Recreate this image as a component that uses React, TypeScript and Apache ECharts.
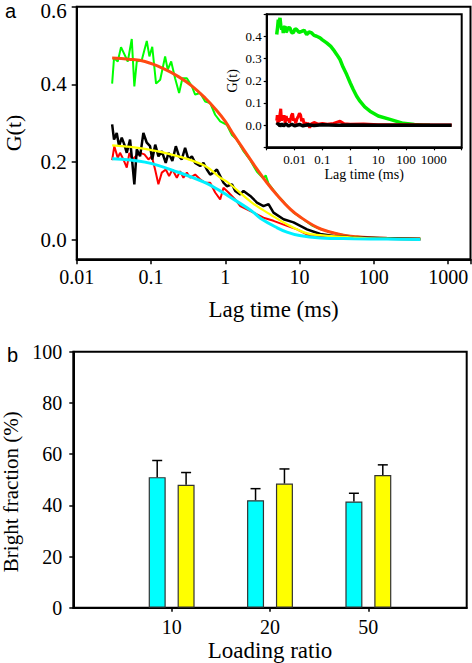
import React, { useEffect, useRef } from 'react';
import * as echarts from 'echarts';

// ---------- Panel a: main FCS curves (lag time ms, G(t)) ----------
const greenData: [number, number][] = [
  [0.03, 0.402], [0.0318, 0.468], [0.0357, 0.459], [0.0395, 0.496], [0.0487, 0.459], [0.0551, 0.517],
  [0.0597, 0.395], [0.0644, 0.459], [0.0752, 0.463], [0.0878, 0.512], [0.0952, 0.472], [0.104, 0.497],
  [0.117, 0.402], [0.133, 0.412], [0.155, 0.472], [0.168, 0.438], [0.187, 0.459], [0.211, 0.416],
  [0.239, 0.378], [0.265, 0.416], [0.304, 0.416], [0.355, 0.395], [0.393, 0.374], [0.459, 0.378],
  [0.536, 0.356], [0.626, 0.352], [0.731, 0.322], [0.854, 0.305], [1.05, 0.296], [1.23, 0.27],
  [1.43, 0.258], [1.76, 0.228], [2.17, 0.205], [2.67, 0.175], [3.27, 0.158], [3.5, 0.166],
  [3.82, 0.145], [4.46, 0.128], [5.2, 0.112], [6.09, 0.098], [7.1, 0.083], [8.3, 0.07], [10, 0.06],
  [12.6, 0.046], [15, 0.036], [19, 0.028], [25.9, 0.02], [35, 0.014], [53, 0.009], [80, 0.006],
  [150, 0.004], [250, 0.003], [423, 0.003],
];
const orangeFit: [number, number][] = [
  [0.03, 0.468], [0.05, 0.465], [0.083, 0.459], [0.15, 0.44], [0.234, 0.42], [0.35, 0.397],
  [0.536, 0.365], [0.75, 0.335], [1.0, 0.305], [1.3, 0.27], [1.76, 0.233], [2.5, 0.19], [3.64, 0.147],
  [5, 0.115], [7.5, 0.079], [10, 0.06], [17.2, 0.032], [25, 0.021], [39.2, 0.012], [60, 0.008],
  [81, 0.006], [150, 0.004], [423, 0.002],
];
const blackData: [number, number][] = [
  [0.03, 0.297], [0.0318, 0.258], [0.0346, 0.275], [0.0372, 0.241], [0.0404, 0.263], [0.0438, 0.245],
  [0.0472, 0.224], [0.0523, 0.258], [0.0561, 0.198], [0.0597, 0.143], [0.0644, 0.233], [0.0713, 0.215],
  [0.079, 0.275], [0.0878, 0.25], [0.0972, 0.241], [0.104, 0.207], [0.114, 0.245], [0.126, 0.215],
  [0.14, 0.228], [0.158, 0.198], [0.172, 0.224], [0.194, 0.203], [0.216, 0.241], [0.239, 0.215],
  [0.26, 0.207], [0.288, 0.237], [0.319, 0.207], [0.355, 0.215], [0.393, 0.198], [0.459, 0.19],
  [0.508, 0.198], [0.565, 0.181], [0.626, 0.168], [0.693, 0.173], [0.771, 0.181], [0.854, 0.164],
  [0.946, 0.147], [1.05, 0.138], [1.23, 0.143], [1.36, 0.126], [1.59, 0.117], [1.76, 0.126],
  [2.17, 0.113], [2.67, 0.096], [3.27, 0.087], [3.82, 0.092], [4.46, 0.07], [6.09, 0.053],
  [8.3, 0.045], [12.6, 0.027], [19, 0.015], [28.7, 0.01], [53, 0.006], [150, 0.004], [423, 0.002],
];
const redData: [number, number][] = [
  [0.03, 0.205], [0.0321, 0.241], [0.0357, 0.211], [0.0383, 0.224], [0.0425, 0.207], [0.0472, 0.186],
  [0.0512, 0.224], [0.0561, 0.207], [0.0624, 0.215], [0.0713, 0.224], [0.0815, 0.22], [0.0923, 0.207],
  [0.1025, 0.215], [0.1136, 0.181], [0.1258, 0.143], [0.1398, 0.173], [0.1584, 0.181], [0.1754, 0.164],
  [0.1943, 0.181], [0.2227, 0.16], [0.2467, 0.177], [0.2733, 0.16], [0.3038, 0.173], [0.3365, 0.16],
  [0.3929, 0.168], [0.4589, 0.156], [0.5358, 0.147], [0.626, 0.147], [0.731, 0.122], [0.854, 0.104],
  [0.946, 0.134], [1.104, 0.122], [1.36, 0.104], [1.59, 0.087], [2.4, 0.07], [3.27, 0.057],
  [4.46, 0.049], [6.77, 0.036], [9.23, 0.027], [13.9, 0.01], [25.9, 0.006], [60, 0.003], [150, 0.002],
  [423, 0.001],
];
const yellowFit: [number, number][] = [
  [0.03, 0.243], [0.083, 0.234], [0.234, 0.215], [0.536, 0.19], [0.854, 0.16], [1.1, 0.147],
  [2.28, 0.096], [4, 0.066], [6.76, 0.04], [12, 0.018], [19, 0.012], [53, 0.006], [150, 0.003],
  [423, 0.002],
];
const cyanFit: [number, number][] = [
  [0.03, 0.209], [0.083, 0.2], [0.234, 0.174], [0.536, 0.147], [0.854, 0.126], [1.1, 0.113],
  [2.28, 0.074], [3, 0.055], [5, 0.031], [6.76, 0.02], [10, 0.011], [19, 0.005], [53, 0.003],
  [150, 0.002], [423, 0.001],
];

// ---------- Panel a inset ----------
const insetGreen: [number, number][] = [
  [0.00229, 0.409], [0.00245, 0.44], [0.00261, 0.476], [0.0028, 0.46], [0.003, 0.484], [0.0032, 0.45],
  [0.00345, 0.431], [0.0037, 0.445], [0.00394, 0.416], [0.0042, 0.44], [0.00454, 0.446], [0.0049, 0.42],
  [0.00522, 0.423], [0.0058, 0.44], [0.00686, 0.438], [0.0078, 0.418], [0.00901, 0.416], [0.0105, 0.435],
  [0.0119, 0.431], [0.0145, 0.418], [0.018, 0.423], [0.022, 0.428], [0.0273, 0.409], [0.033, 0.42],
  [0.0412, 0.416], [0.05, 0.405], [0.0623, 0.401], [0.0819, 0.394], [0.1, 0.385], [0.142, 0.371],
  [0.2, 0.355], [0.246, 0.341], [0.33, 0.318], [0.428, 0.296], [0.55, 0.262], [0.744, 0.228],
  [1.0, 0.19], [1.28, 0.161], [1.7, 0.13], [2.23, 0.108], [3.3, 0.082], [5.1, 0.063], [10.1, 0.041],
  [26.7, 0.026], [80, 0.008], [200, 0.003], [418, 0.0], [726, 0.0],
];
const insetRed: [number, number][] = [
  [0.00229, 0.02], [0.0024, 0.045], [0.0025, 0.01], [0.0026, 0.041], [0.0028, 0.015], [0.003, 0.05],
  [0.0032, 0.074], [0.0034, 0.02], [0.0036, 0.035], [0.0039, 0.026], [0.0042, 0.045], [0.0046, 0.01],
  [0.005, 0.041], [0.0055, 0.02], [0.006, 0.03], [0.0066, 0.012], [0.0072, 0.026], [0.0078, 0.045],
  [0.0085, 0.053], [0.0092, 0.02], [0.01, 0.03], [0.011, 0.008], [0.012, 0.026], [0.0135, 0.04],
  [0.015, 0.053], [0.0165, 0.045], [0.018, 0.018], [0.02, 0.03], [0.022, 0.005], [0.025, 0.012],
  [0.0273, -0.005], [0.03, 0.011], [0.035, -0.012], [0.04, 0.006], [0.05, 0.012], [0.07, 0.004],
  [0.1, 0.008], [0.15, 0.004], [0.25, 0.008], [0.43, 0.018], [0.6, 0.006], [1, 0.004], [3, 0.005],
  [10, 0.002], [100, 0.002], [1000, 0.001], [4365, 0.001],
];
const insetBlack: [number, number][] = [
  [0.00229, 0.0], [0.0026, 0.008], [0.003, -0.004], [0.0035, 0.006], [0.004, -0.003], [0.005, 0.005],
  [0.006, -0.004], [0.008, 0.004], [0.01, -0.003], [0.015, 0.003], [0.02, -0.003], [0.03, 0.002],
  [0.05, -0.002], [0.1, 0.002], [0.3, 0.0], [1, 0.001], [10, 0.0], [100, 0.0], [1000, 0.0], [4365, 0.0],
];

// tick labels
const mainLogLabels = [0.01, 0.1, 1, 10, 100, 1000];
const mainYLabels = [0, 0.2, 0.4, 0.6];

// ---------- Panel b: bright fraction ----------
const loadingRatios = ['', '10', '20', '50', ''];
const cyanBars = ['-', 51, 42, 41.5, '-'];
const yellowBars = ['-', 48, 48.5, 51.8, '-'];
const cyanErr = [6.5, 4.5, 3.2];
const yellowErr = [4.8, 5.7, 4.0];

const SERIF = 'Liberation Serif';
const SANS = 'Liberation Sans';
const BAR_W = 17;
const BAR_GAP = 0.7;

const logFmt = (v: number) => {
  const r = Number(v.toPrecision(6));
  return mainLogLabels.includes(r) ? String(r) : '';
};

export default function App() {
  const ref = useRef<HTMLDivElement>(null);
  useEffect(() => {
    document.body.style.margin = '0';
    const chart = echarts.init(ref.current!, null, { renderer: 'svg' });

    const errData: number[][] = [];
    cyanErr.forEach((e, i) => errData.push([i + 1, cyanBars[i + 1] as number, e, -1]));
    yellowErr.forEach((e, i) => errData.push([i + 1, yellowBars[i + 1] as number, e, 1]));
    const halfOffset = (BAR_W * 2 + BAR_W * BAR_GAP) / 2 - BAR_W / 2;
    const topY = mainYLabels[mainYLabels.length - 1];

    const axisLine = { onZero: false, lineStyle: { color: '#000', width: 2 } };
    const lineSeries = (data: [number, number][], color: string, width: number, idx: number, smooth = false) => ({
      type: 'line',
      data,
      xAxisIndex: idx,
      yAxisIndex: idx,
      showSymbol: false,
      symbol: 'none',
      smooth: smooth ? 0.4 : false,
      lineStyle: { color, width },
      itemStyle: { color },
      silent: true,
    });
    const gridBase = { show: true, borderColor: '#000', borderWidth: 2, containLabel: false, outerBoundsMode: 'none' };

    chart.setOption({
      animation: false,
      backgroundColor: '#fff',
      textStyle: { fontFamily: SERIF, color: '#000' },
      grid: [
        { ...gridBase, left: 76.7, top: 6.7, width: 393.8, height: 252.6 },
        { ...gridBase, left: 266.7, top: 14.3, width: 195, height: 133, backgroundColor: '#fff' },
        { ...gridBase, left: 73.3, top: 351.7, width: 393.4, height: 256 },
      ],
      xAxis: [
        {
          gridIndex: 0, type: 'log', logBase: 10, min: 0.01, max: 2000,
          axisLine, splitLine: { show: false },
          axisTick: { length: 5, lineStyle: { color: '#000', width: 1.5 } },
          axisLabel: { formatter: logFmt, fontSize: 20, color: '#000', margin: 8, fontFamily: SERIF },
          name: 'Lag time (ms)', nameLocation: 'middle', nameGap: 39,
          nameTextStyle: { fontSize: 23, color: '#000', fontFamily: SERIF },
        },
        {
          gridIndex: 1, type: 'log', logBase: 10, min: 0.001, max: 10000,
          axisLine, splitLine: { show: false },
          axisTick: { length: 3, lineStyle: { color: '#000', width: 1.2 } },
          axisLabel: { formatter: logFmt, fontSize: 13, color: '#000', margin: 6, fontFamily: SERIF },
          name: 'Lag time (ms)', nameLocation: 'middle', nameGap: 19,
          nameTextStyle: { fontSize: 14, color: '#000', fontFamily: SERIF },
        },
        {
          gridIndex: 2, type: 'category', data: loadingRatios, boundaryGap: false,
          axisLine,
          axisTick: { length: 4, interval: (i: number) => i > 0 && i < loadingRatios.length - 1, lineStyle: { color: '#000', width: 1.5 } },
          axisLabel: { interval: 0, fontSize: 20, color: '#000', margin: 9, fontFamily: SERIF },
          name: 'Loading ratio', nameLocation: 'middle', nameGap: 31,
          nameTextStyle: { fontSize: 23, color: '#000', fontFamily: SERIF },
        },
      ],
      yAxis: [
        {
          gridIndex: 0, type: 'value', min: -0.05, max: 0.6,
          axisLine: { show: true, ...axisLine }, splitLine: { show: false },
          axisTick: { show: true, length: 5, customValues: mainYLabels, lineStyle: { color: '#000', width: 1.5 } },
          axisLabel: {
            customValues: mainYLabels,
            formatter: (v: number) => (Math.abs(v - topY) < 1e-9 ? `{top|${v.toFixed(1)}}` : v.toFixed(1)),
            rich: { top: { fontSize: 21, fontFamily: SERIF, color: '#000', padding: [8, 0, 0, 0] } },
            fontSize: 21, color: '#000', margin: 10, fontFamily: SERIF,
          },
          name: 'G(t)', nameLocation: 'middle', nameGap: 52,
          nameTextStyle: { fontSize: 22, color: '#000', fontFamily: SERIF },
        },
        {
          gridIndex: 1, type: 'value', min: -0.1, max: 0.5, interval: 0.1,
          axisLine: { show: true, ...axisLine }, splitLine: { show: false },
          axisTick: { show: true, length: 3, lineStyle: { color: '#000', width: 1.2 } },
          axisLabel: {
            formatter: (v: number) => (v < -0.05 || v > 0.45 ? '' : v.toFixed(1)),
            fontSize: 13, color: '#000', margin: 5, fontFamily: SERIF,
          },
          name: 'G(t)', nameLocation: 'middle', nameGap: 27,
          nameTextStyle: { fontSize: 14, color: '#000', fontFamily: SERIF },
        },
        {
          gridIndex: 2, type: 'value', min: 0, max: 100, interval: 20,
          axisLine: { show: true, ...axisLine }, splitLine: { show: false },
          axisTick: { show: true, length: 4, lineStyle: { color: '#000', width: 1.5 } },
          axisLabel: { fontSize: 20, color: '#000', margin: 11, fontFamily: SERIF },
          name: 'Bright fraction (%)', nameLocation: 'middle', nameGap: 48,
          nameTextStyle: { fontSize: 21, color: '#000', fontFamily: SERIF, padding: [0, 24, 0, 0] },
        },
      ],
      series: [
        lineSeries(greenData, '#00ff00', 2, 0),
        lineSeries(orangeFit, '#ff4a12', 3, 0, true),
        lineSeries(redData, '#ff0000', 2, 0),
        lineSeries(blackData, '#000000', 2.5, 0),
        lineSeries(yellowFit, '#ffff00', 2.2, 0, true),
        lineSeries(cyanFit, '#00f0ff', 3, 0, true),
        lineSeries(insetGreen, '#00ee00', 3.5, 1),
        lineSeries(insetRed, '#ff0000', 3, 1),
        lineSeries(insetBlack, '#000000', 3.5, 1),
        {
          type: 'bar', xAxisIndex: 2, yAxisIndex: 2, data: cyanBars,
          barWidth: BAR_W, barGap: `${BAR_GAP * 100}%`,
          itemStyle: { color: '#00ffff', borderColor: '#333', borderWidth: 1.2 },
        },
        {
          type: 'bar', xAxisIndex: 2, yAxisIndex: 2, data: yellowBars,
          barWidth: BAR_W, barGap: `${BAR_GAP * 100}%`,
          itemStyle: { color: '#ffff00', borderColor: '#333', borderWidth: 1.2 },
        },
        {
          type: 'custom', xAxisIndex: 2, yAxisIndex: 2, data: errData, z: 5,
          renderItem: (_p: any, api: any) => {
            const cat = api.value(0);
            const val = api.value(1);
            const err = api.value(2);
            const side = api.value(3);
            const base = api.coord([cat, val]);
            const top = api.coord([cat, val + err]);
            const x = base[0] + side * halfOffset;
            const style = { stroke: '#000', lineWidth: 1.5 };
            return {
              type: 'group',
              children: [
                { type: 'line', shape: { x1: x, y1: base[1], x2: x, y2: top[1] }, style },
                { type: 'line', shape: { x1: x - 5, y1: top[1], x2: x + 5, y2: top[1] }, style },
              ],
            };
          },
        },
      ],
      graphic: [
        { type: 'text', x: 5, y: 11, style: { text: 'a', font: `20px ${SANS}`, fill: '#000', verticalAlign: 'middle' } },
        { type: 'text', x: 7, y: 355, style: { text: 'b', font: `20px ${SANS}`, fill: '#000', verticalAlign: 'middle' } },
      ],
    });
    return () => chart.dispose();
  }, []);
  return <div ref={ref} style={{ width: 472, height: 663, position: 'absolute', left: 0, top: 0 }} />;
}
